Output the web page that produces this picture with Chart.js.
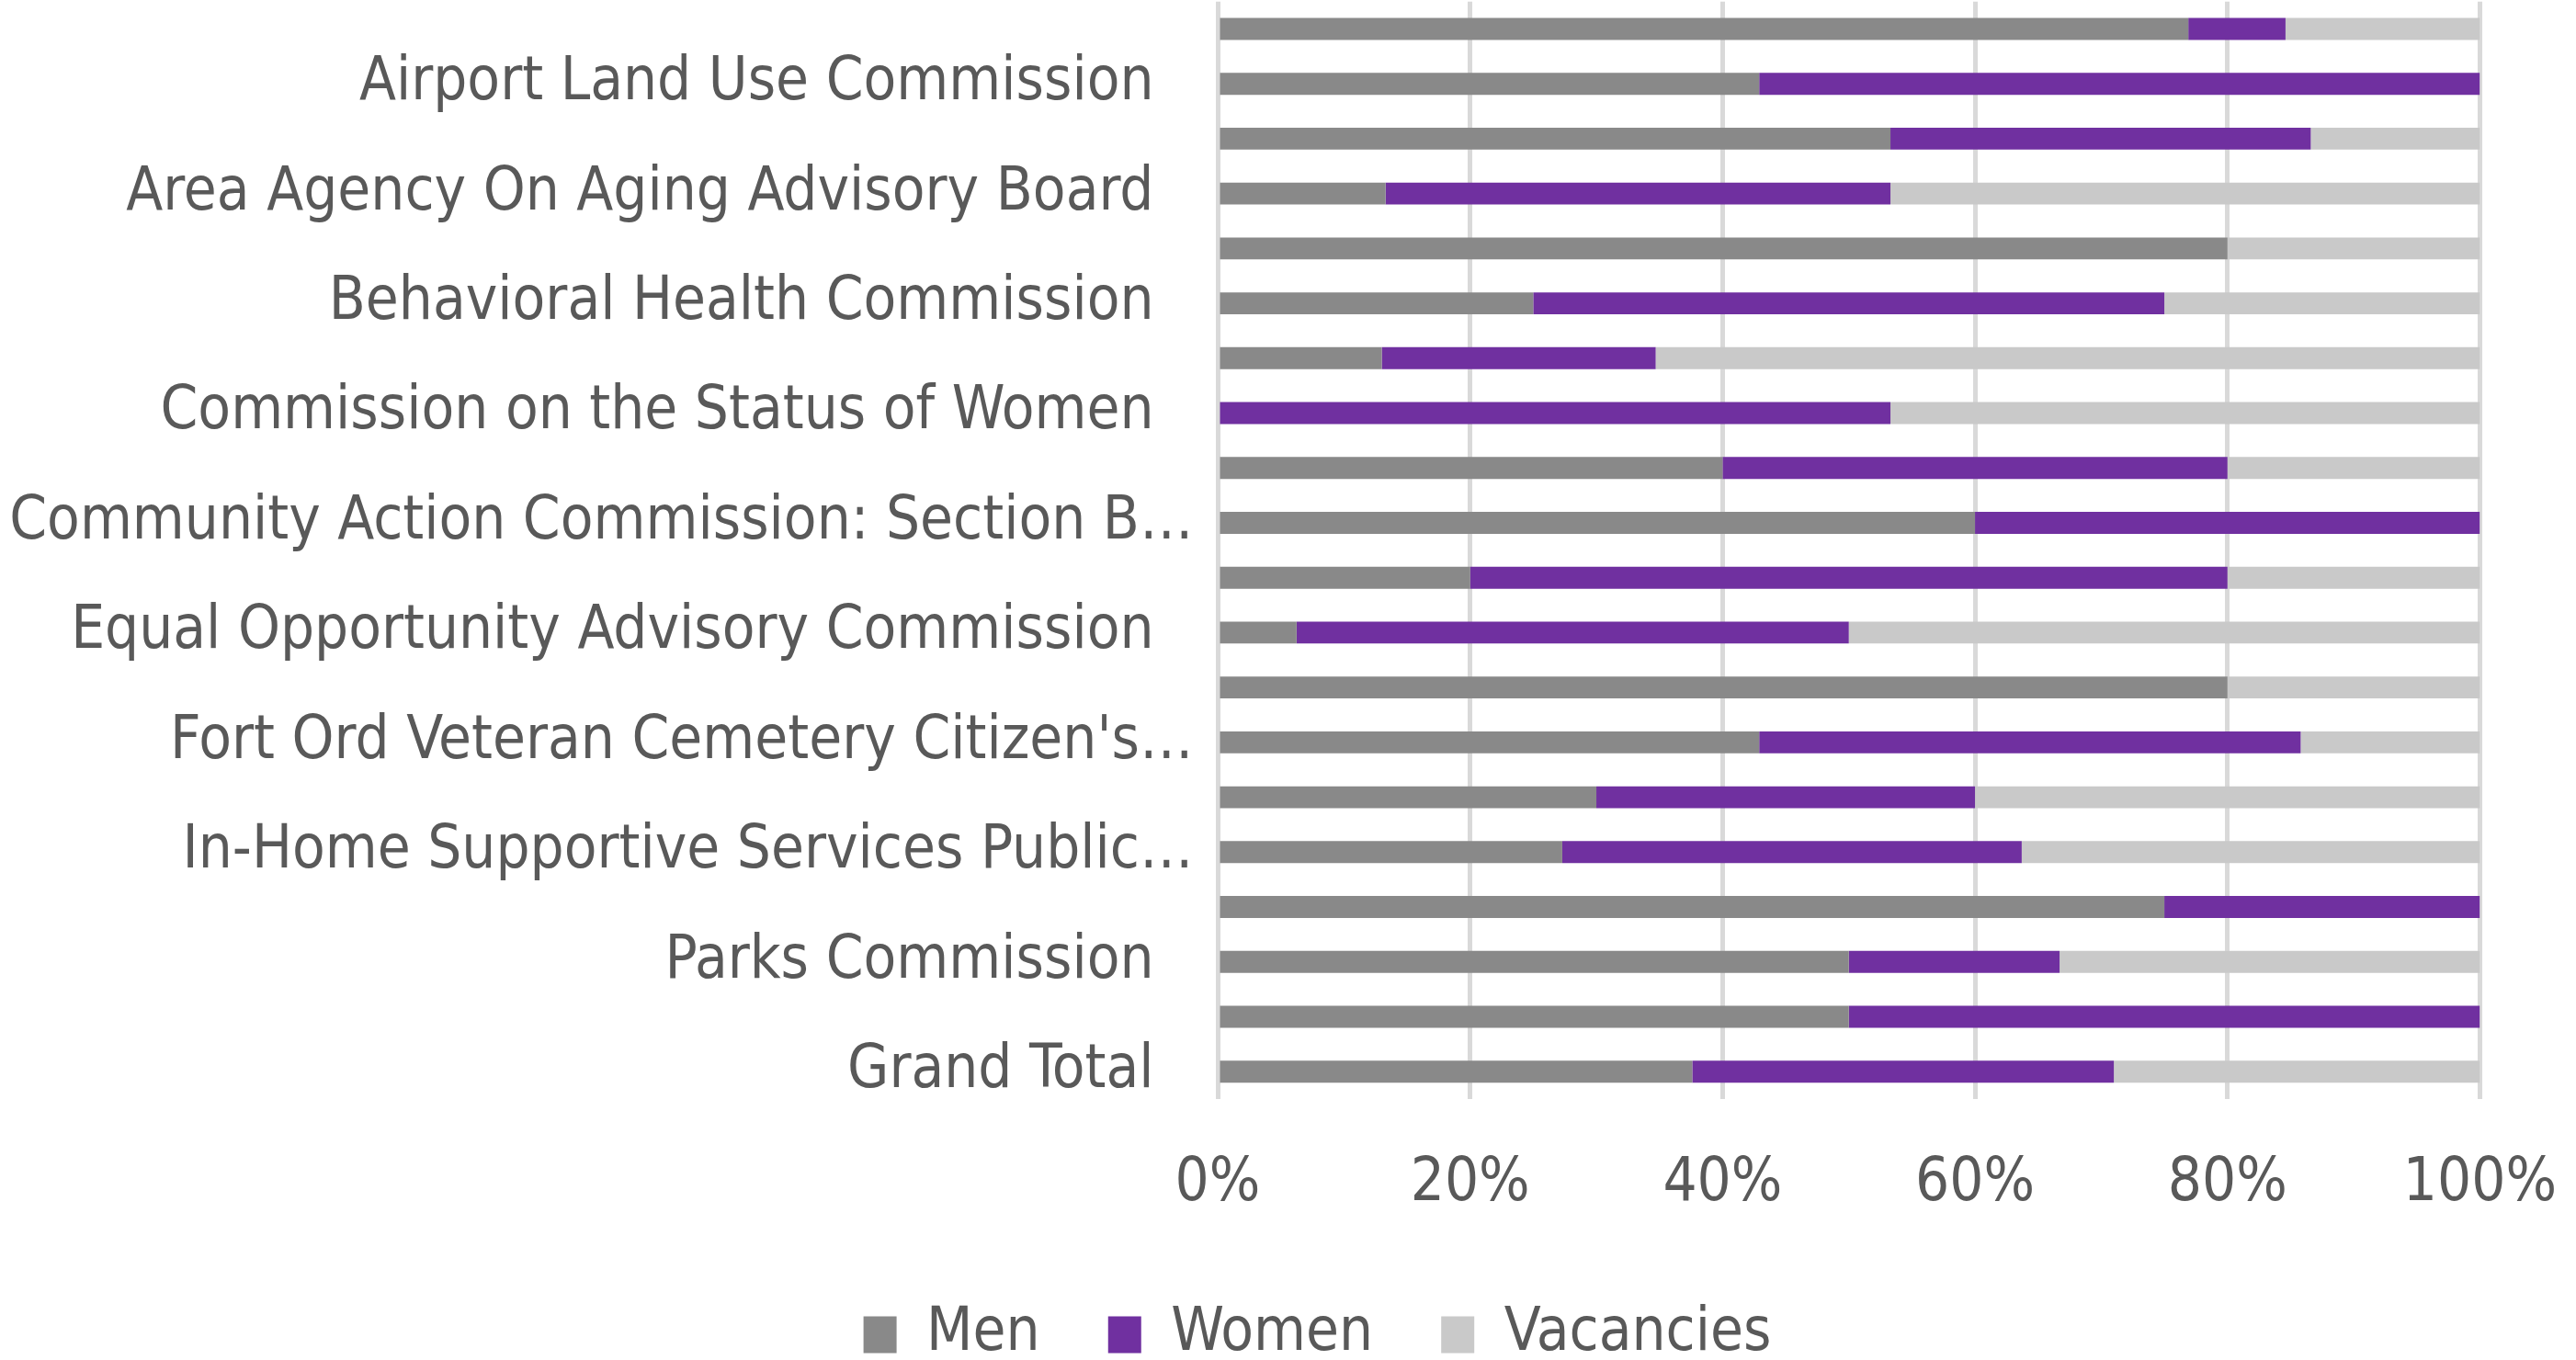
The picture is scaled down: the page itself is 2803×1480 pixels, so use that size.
<!DOCTYPE html>
<html>
<head>
<meta charset="utf-8">
<script src="https://cdn.jsdelivr.net/npm/chart.js@4.4.1/dist/chart.umd.min.js"></script>
<style>
  html, body { margin: 0; padding: 0; background: #ffffff; }
  #wrap { width: 2803px; height: 1480px; position: relative; }
</style>
</head>
<body>
<div id="wrap"><canvas id="boardChart"></canvas></div>
<script>
// Board / commission seats, share of seats (%) by group.
// Only every other category name is printed on the original axis, the rest stay blank.
const boards = [
  '',
  'Airport Land Use Commission',
  '',
  'Area Agency On Aging Advisory Board',
  '',
  'Behavioral Health Commission',
  '',
  'Commission on the Status of Women',
  '',
  'Community Action Commission: Section B…',
  '',
  'Equal Opportunity Advisory Commission',
  '',
  "Fort Ord Veteran Cemetery Citizen's…",
  '',
  'In-Home Supportive Services Public…',
  '',
  'Parks Commission',
  '',
  'Grand Total'
];

const men       = [76.9, 42.9, 53.3, 13.3, 80, 25, 13.0, 0,    40, 60, 20, 6.25,  80, 42.9, 30, 27.3, 75, 50,   50, 37.6];
const women     = [7.7,  57.1, 33.3, 40,   0,  50, 21.7, 53.3, 40, 40, 60, 43.75, 0,  42.9, 30, 36.4, 25, 16.7, 50, 33.4];
const vacancies = [15.4, 0,    13.4, 46.7, 20, 25, 65.3, 46.7, 20, 0,  20, 50,    20, 14.2, 40, 36.3, 0,  33.3, 0,  29.0];

const xTicks = [0, 20, 40, 60, 80, 100];

const FONT = "'DejaVu Sans Condensed', 'DejaVu Sans', sans-serif";
const TEXT_COLOR = '#595959';
const FONT_SIZE = 65;

let boardChart;

// the layout padding on the left is only there to push the legend right;
// let the long category names use that room too instead of being clipped
const labelRoom = {
  id: 'labelRoom',
  afterLayout: (chart) => { chart.scales.y.left = 0; }
};

window.onload = () => {
  Chart.defaults.font.family = FONT;
  Chart.defaults.color = TEXT_COLOR;

  const baseLabels = Chart.defaults.plugins.legend.labels.generateLabels;

  boardChart = new Chart(document.getElementById('boardChart').getContext('2d'), {
    type: 'bar',
    data: {
      labels: boards,
      datasets: [
        { label: 'Men', data: men, backgroundColor: '#898989' },
        { label: 'Women', data: women, backgroundColor: '#7030a0' },
        { label: 'Vacancies', data: vacancies, backgroundColor: '#c9c9c9' }
      ]
    },
    plugins: [labelRoom],
    options: {
      indexAxis: 'y',
      responsive: true,
      maintainAspectRatio: false,
      animation: false,
      datasets: { bar: { categoryPercentage: 1, barPercentage: 0.4 } },
      layout: { padding: { left: 64, right: 0, top: 0, bottom: -15 } },
      plugins: {
        tooltip: { enabled: false },
        legend: {
          position: 'bottom',
          labels: {
            boxWidth: 36,
            boxHeight: 40,
            padding: 37,
            color: TEXT_COLOR,
            font: { size: FONT_SIZE },
            // wider gap between entries without making the legend taller
            generateLabels: (chart) => baseLabels(chart).map((item, i, all) =>
              Object.assign(item, { text: i < all.length - 1 ? item.text + '  ' : item.text }))
          }
        }
      },
      scales: {
        x: {
          stacked: true,
          min: 0,
          max: 100,
          afterBuildTicks: (scale) => { scale.ticks = xTicks.map(v => ({ value: v })); },
          ticks: {
            padding: 21,
            color: TEXT_COLOR,
            font: { size: FONT_SIZE, lineHeight: 2.23 },
            callback: (v) => v + '%'
          },
          grid: { color: '#d9d9d9', lineWidth: 5, drawTicks: false },
          border: { display: false }
        },
        y: {
          stacked: true,
          afterFit: (scale) => { scale.width = 1261; },
          grid: { display: false },
          border: { display: false },
          ticks: {
            autoSkip: false,
            padding: 0,
            color: TEXT_COLOR,
            font: { size: FONT_SIZE, lineHeight: 0.05 },
            // untruncated names sit a little further from the axis than the "…" ones
            callback: function (value) {
              const name = this.getLabelForValue(value);
              return name.endsWith('…') ? name + ' ' : name + '   \u200A';
            }
          }
        }
      }
    }
  });
};
</script>
</body>
</html>
